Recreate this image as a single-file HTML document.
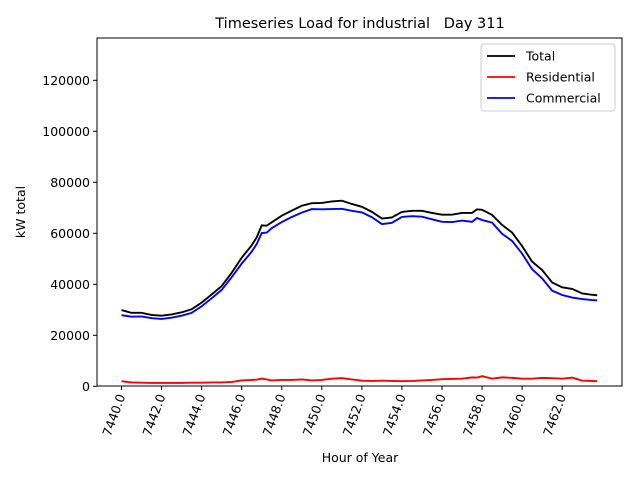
<!DOCTYPE html>
<html><head><meta charset="utf-8"><style>
body{margin:0;background:#fff}
text{font-family:"DejaVu Sans","Liberation Sans",sans-serif;fill:#000}
</style></head><body>
<svg id="c" width="640" height="480" viewBox="0 0 640 480"></svg>
<script>
const hours=[7440,7440.5,7441,7441.5,7442,7442.5,7443,7443.5,7444,7444.5,7445,7445.5,7446,7446.5,7446.75,7447,7447.25,7447.5,7448,7448.5,7449,7449.5,7450,7450.5,7451,7451.5,7452,7452.5,7453,7453.5,7454,7454.5,7455,7455.5,7456,7456.5,7457,7457.5,7457.75,7458,7458.5,7459,7459.5,7460,7460.5,7461,7461.5,7462,7462.5,7463,7463.5,7463.75];
const total=[29900,28800,28800,28000,27700,28200,29000,30200,32800,36000,39300,44500,50400,55300,58400,63100,63000,64300,66900,68900,70800,71800,71900,72500,72800,71500,70400,68400,65800,66200,68400,68800,68800,68000,67300,67300,68000,68000,69400,69200,67200,63300,60300,55000,48900,45600,40700,38800,38200,36400,35900,35700];
const residential=[2000,1500,1400,1300,1300,1300,1300,1400,1400,1500,1500,1700,2300,2500,2600,3000,2700,2300,2500,2500,2700,2300,2500,3000,3200,2700,2200,2100,2200,2100,2000,2100,2300,2500,2800,2900,3000,3500,3400,4000,3000,3500,3300,3000,3000,3300,3200,3000,3400,2200,2100,2000];
const commercial=[27900,27300,27400,26700,26400,26900,27700,28800,31400,34500,37800,42800,48100,52800,55800,60100,60300,62000,64400,66400,68100,69500,69400,69500,69600,68800,68200,66300,63600,64100,66400,66700,66500,65500,64500,64400,65000,64500,66000,65200,64200,59800,57000,52000,45900,42300,37500,35800,34800,34200,33800,33700];
const yTicks=[0,20000,40000,60000,80000,100000,120000];
const xTicks=[7440,7442,7444,7446,7448,7450,7452,7454,7456,7458,7460,7462];
const L=97,R=622,T=38,B=386;
const x=v=>121.5+(v-7440)*20.03;
const y=v=>386.3-v/20000*51;
const svg=document.getElementById('c');const NS='http://www.w3.org/2000/svg';
function mk(t,a,p){const e=document.createElementNS(NS,t);for(const k in a)e.setAttribute(k,a[k]);(p||svg).appendChild(e);return e;}
let e=mk('text',{x:360,y:28,'text-anchor':'middle','font-size':14.5,style:'white-space:pre'});e.textContent='Timeseries Load for industrial\u00a0\u00a0\u00a0Day 311';


yTicks.forEach(v=>{const yy=y(v);
 const l=mk('line',{x1:L-4,x2:L,y1:yy,y2:yy,stroke:'#000'});
 
 
 const t=mk('text',{x:L-7,y:yy+4.5,'text-anchor':'end','font-size':12.5});t.textContent=v;
 
 });
xTicks.forEach(v=>{const xx=x(v);
 const l=mk('line',{x1:xx,x2:xx,y1:B,y2:B+4,stroke:'#000'});
 
 
 const t=mk('text',{x:0,y:0,'text-anchor':'end','font-size':12.5,transform:`translate(${xx+4},${B+10}) rotate(-70)`});t.textContent=v.toFixed(1);
 
 });
function line(vals,col,name){const p=mk('polyline',{points:vals.map((v,i)=>x(hours[i])+','+y(v)).join(' '),fill:'none',stroke:col,'stroke-width':1.9});
 
 }
line(total,'#000','total-line');line(residential,'#f00','residential-line');line(commercial,'#00f','commercial-line');
const f=mk('rect',{x:L,y:T,width:R-L,height:B-T,fill:'none',stroke:'#000','stroke-width':1});


e=mk('text',{x:360,y:462,'text-anchor':'middle','font-size':12.5});e.textContent='Hour of Year';


e=mk('text',{x:0,y:0,'text-anchor':'middle','font-size':12.5,transform:'translate(25,212) rotate(-90)'});e.textContent='kW total';


const g=mk('g',{});


mk('rect',{x:481,y:44,width:134,height:67,rx:3,fill:'#fff',stroke:'#ccc'},g);
[['Total','#000'],['Residential','#f00'],['Commercial','#00f']].forEach((d,i)=>{const yy=56+i*21;
 mk('line',{x1:487,x2:515,y1:yy,y2:yy,stroke:d[1],'stroke-width':1.8},g);
 const t=mk('text',{x:526,y:yy+4.5,'font-size':12.5},g);t.textContent=d[0];
 
 });
</script>
</body></html>
